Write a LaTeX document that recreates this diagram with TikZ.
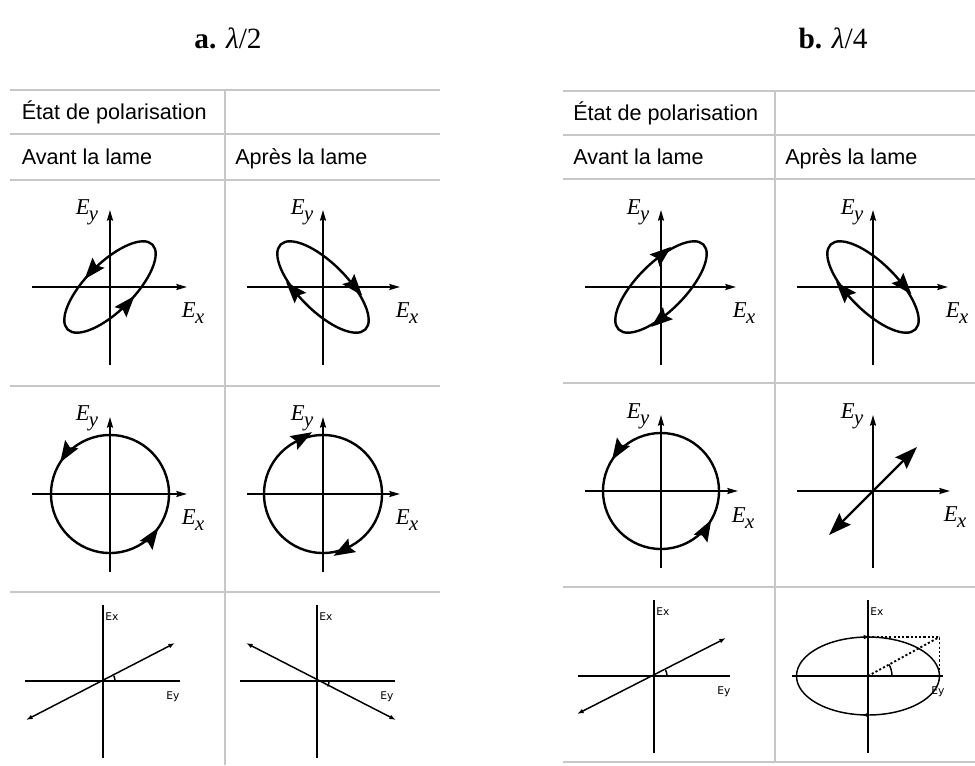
\documentclass[tikz,border=0pt]{standalone}
\usepackage{fontspec}
\setmainfont{Liberation Serif}
\newfontfamily\tabfont{Liberation Sans}
\newfontfamily\smlfont{DejaVu Sans}
\usetikzlibrary{arrows.meta,decorations.markings}
\newcommand{\Elab}[1]{\fontsize{17}{17}\selectfont\textit{E}\kern-0.5pt\raisebox{-0.28em}{\fontsize{15.5}{15.5}\selectfont\textit{#1}}}
\tikzset{
  grid/.style={draw=black!22, line width=0.9pt},
  axis/.style={line width=1.3pt, -{Stealth[length=8pt,width=4.5pt,inset=1pt]}},
  curve/.style={line width=1.8pt},
  thinl/.style={line width=1.1pt},
  bigtip/.tip={Stealth[length=16pt,width=11.5pt,inset=2.5pt]},
  bigtipr/.tip={Stealth[length=16pt,width=11.5pt,inset=2.5pt,reversed]},
  hugetip/.tip={Stealth[length=17pt,width=12pt,inset=2.5pt]},
  smtip/.tip={Latex[length=5pt,width=3.5pt]},
  smtipr/.tip={Latex[length=5pt,width=3.5pt,reversed]},
  marks/.style n args={3}{postaction={decorate}, decoration={markings,
     mark=at position #1 with {\arrow{#3}},
     mark=at position #2 with {\arrow{#3}}}},
  tabtxt/.style={anchor=base west, inner sep=0pt, font=\tabfont\fontsize{16.2}{16.2}\selectfont},
  elab/.style={inner sep=0pt},
  slab/.style={inner sep=0pt, font=\smlfont\fontsize{8}{8}\selectfont},
  ttl/.style={font=\fontsize{22}{22}\selectfont},
  dots/.style={line width=1.4pt, dash pattern=on 1.6pt off 1.6pt}
}
\begin{document}
\begin{tikzpicture}[x=0.75pt,y=-0.75pt]
\useasboundingbox (0,0) rectangle (975,765);
% titles
\node[ttl] (ta) at (228,38) {\textbf{a.} \textit{λ}/2};
\node[ttl] (tb) at (833,38) {\textbf{b.} \textit{λ}/4};
% left table grid
\foreach \yy in {90,134,180,386,592} \draw[grid] (10,\yy) -- (440,\yy);
\draw[grid] (225,90) -- (225,765);
% right table grid
\foreach \yy in {91,135,179,383,587,762} \draw[grid] (563,\yy) -- (975,\yy);
\draw[grid] (775,91) -- (775,762);
% table texts
\node[tabtxt] (la) at (21.5,119.5) {État de polarisation};
\node[tabtxt] (lb) at (21.5,164) {Avant la lame};
\node[tabtxt] (lc) at (235,164) {Après la lame};
\node[tabtxt] (ra) at (573,120) {État de polarisation};
\node[tabtxt] (rb) at (573,164) {Avant la lame};
\node[tabtxt] (rc) at (785,164) {Après la lame};

% ---------- a. lambda/2 ----------
% row 1 left (tilt up-right, counterclockwise)
\begin{scope}[shift={(110,287)}, yscale=-1]
  \draw[axis] (-78,0) -- (77,0);
  \draw[axis] (0,-78) -- (0,77);
  \node[elab] (a1y) at (-23,75) {\Elab{y}};
  \node[elab] (a1x) at (83,-26) {\Elab{x}};
  \draw[curve, rotate=-45, marks={0.295}{0.79}{bigtip}] (0,0) ellipse [x radius=60, y radius=24];
\end{scope}
% row 1 right (tilt down-right, clockwise)
\begin{scope}[shift={(323,287)}, yscale=-1]
  \draw[axis] (-76,0) -- (77,0);
  \draw[axis] (0,-78) -- (0,77);
  \node[elab] (a2y) at (-21,75) {\Elab{y}};
  \node[elab] (a2x) at (84,-26) {\Elab{x}};
  \draw[curve, rotate=45, marks={0.205}{0.72}{bigtipr}] (0,0) ellipse [x radius=60, y radius=24];
\end{scope}
% row 2 left
\begin{scope}[shift={(110,494)}, yscale=-1]
  \draw[axis] (-78,0) -- (77,0);
  \draw[axis] (0,-78) -- (0,77);
  \node[elab] (a3y) at (-23,76) {\Elab{y}};
  \node[elab] (a3x) at (83,-26) {\Elab{x}};
  \draw[curve, marks={0.41}{0.903}{bigtip}] (0,0) circle [radius=59];
\end{scope}
% row 2 right
\begin{scope}[shift={(323,494)}, yscale=-1]
  \draw[axis] (-76,0) -- (77,0);
  \draw[axis] (0,-78) -- (0,77);
  \node[elab] (a4y) at (-21,76) {\Elab{y}};
  \node[elab] (a4x) at (84,-26) {\Elab{x}};
  \draw[curve, marks={0.333}{0.832}{bigtipr}] (0,0) circle [radius=59];
\end{scope}
% row 3 left
\begin{scope}[shift={(103,681)}, yscale=-1]
  \draw[thinl] (-78,0) -- (77,0);
  \draw[thinl] (0,-77) -- (0,76);
  \draw[thinl, smtip-smtip] (-77,-39) -- (72,38);
  \draw[thinl] (12,0) arc[start angle=0, end angle=27, radius=12];
  \node[slab, anchor=west] (a5x) at (2,64) {Ex};
  \node[slab] (a5y) at (70,-16) {Ey};
\end{scope}
% row 3 right
\begin{scope}[shift={(317,681)}, yscale=-1]
  \draw[thinl] (-77,0) -- (78,0);
  \draw[thinl] (0,-77) -- (0,76);
  \draw[thinl, smtip-smtip] (-71,38) -- (79,-39);
  \draw[thinl] (12,0) arc[start angle=0, end angle=-27, radius=12];
  \node[slab, anchor=west] (a6x) at (2,64) {Ex};
  \node[slab] (a6y) at (70,-16) {Ey};
\end{scope}

% ---------- b. lambda/4 ----------
% row 1 left (tilt up-right, clockwise)
\begin{scope}[shift={(661,287)}, yscale=-1]
  \draw[axis] (-76,0) -- (75,0);
  \draw[axis] (0,-78) -- (0,77);
  \node[elab] (b1y) at (-23,75) {\Elab{y}};
  \node[elab] (b1x) at (83,-26) {\Elab{x}};
  \draw[curve, rotate=-45, marks={0.198}{0.70}{bigtipr}] (0,0) ellipse [x radius=60, y radius=24];
\end{scope}
% row 1 right (tilt down-right, clockwise)
\begin{scope}[shift={(873,287)}, yscale=-1]
  \draw[axis] (-76,0) -- (75,0);
  \draw[axis] (0,-78) -- (0,77);
  \node[elab] (b2y) at (-21,75) {\Elab{y}};
  \node[elab] (b2x) at (84,-26) {\Elab{x}};
  \draw[curve, rotate=45, marks={0.21}{0.72}{bigtipr}] (0,0) ellipse [x radius=60, y radius=24];
\end{scope}
% row 2 left
\begin{scope}[shift={(661,491)}, yscale=-1]
  \draw[axis] (-76,0) -- (77,0);
  \draw[axis] (0,-77) -- (0,76);
  \node[elab] (b3y) at (-23,75) {\Elab{y}};
  \node[elab] (b3x) at (82,-27) {\Elab{x}};
  \draw[curve, marks={0.41}{0.917}{bigtip}] (0,0) circle [radius=58];
\end{scope}
% row 2 right
\begin{scope}[shift={(873,491)}, yscale=-1]
  \draw[axis] (-76,0) -- (77,0);
  \draw[axis] (0,-77) -- (0,76);
  \node[elab] (b4y) at (-21,75) {\Elab{y}};
  \node[elab] (b4x) at (82,-26) {\Elab{x}};
  \draw[curve, hugetip-hugetip] (-44,-44) -- (44,44);
\end{scope}
% row 3 left
\begin{scope}[shift={(654,676)}, yscale=-1]
  \draw[thinl] (-76,0) -- (76,0);
  \draw[thinl] (0,-77) -- (0,76);
  \draw[thinl, smtip-smtip] (-77,-38) -- (72,38);
  \draw[thinl] (13,0) arc[start angle=0, end angle=27, radius=13];
  \node[slab, anchor=west] (b5x) at (2,64) {Ex};
  \node[slab] (b5y) at (70,-16) {Ey};
\end{scope}
% row 3 right
\begin{scope}[shift={(868,676)}, yscale=-1]
  \draw[thinl] (-76,0) -- (75,0);
  \draw[thinl] (0,-77) -- (0,76);
  \draw[thinl, marks={0.262}{0.75}{smtipr}] (0,0) ellipse [x radius=71.5, y radius=39];
  \draw[dots] (0,39) -- (71.5,39) -- (71.5,0);
  \draw[dots] (0,0) -- (71.5,39);
  \draw[thinl] (24,0) arc[start angle=0, end angle=28.6, radius=24];
  \node[slab, anchor=west] (b6x) at (2,64) {Ex};
  \node[slab] (b6y) at (70,-16) {Ey};
\end{scope}
\end{tikzpicture}
\end{document}
